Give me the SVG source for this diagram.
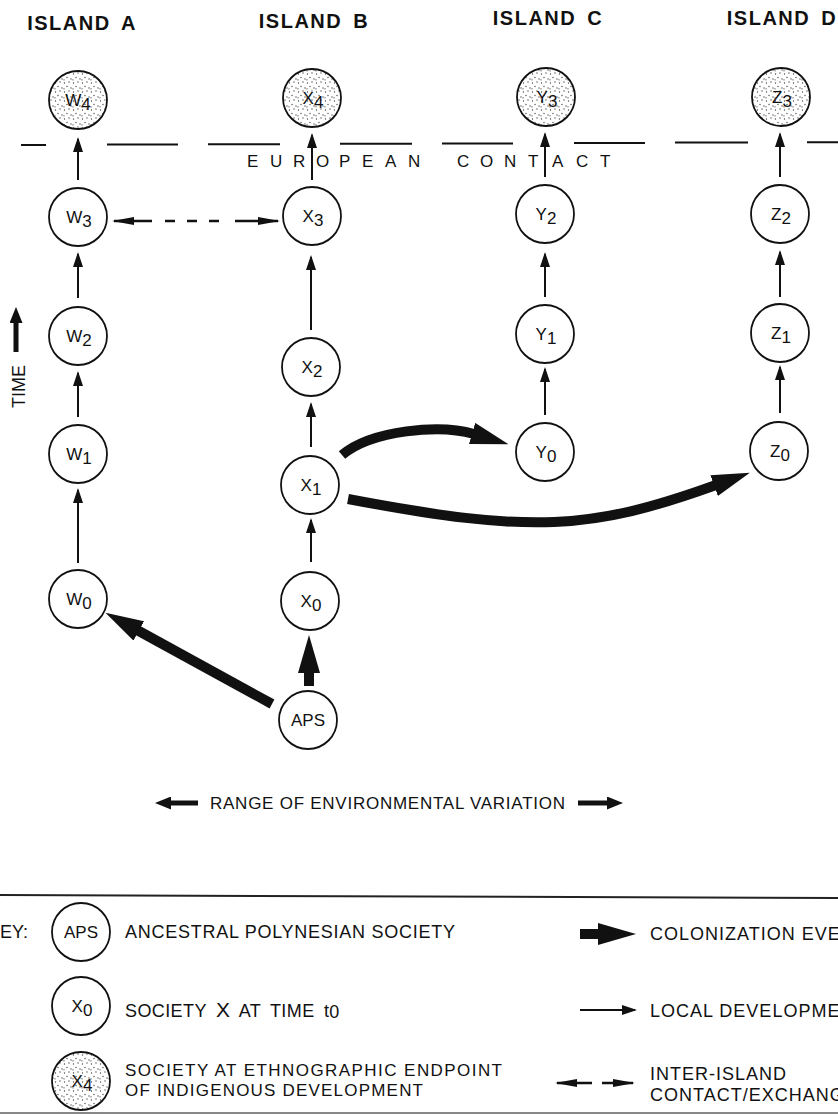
<svg xmlns="http://www.w3.org/2000/svg" width="838" height="1115" viewBox="0 0 838 1115">
<defs>
<style>
text{font-family:"Liberation Sans",Arial,sans-serif;fill:#111}
.hdr{font-size:20px;font-weight:bold;letter-spacing:1.5px;word-spacing:4px;text-anchor:middle}
.node circle{fill:#fff;stroke:#111;stroke-width:1.8}
.node.end circle{fill:url(#stip)}
.lbl{font-size:17px;text-anchor:middle}
.loc{stroke:#111;stroke-width:2;fill:none;marker-end:url(#mLoc)}
.col{stroke:#111;stroke-width:10;fill:none;marker-end:url(#mBig)}
.dsh{stroke:#111;stroke-width:2.5;fill:none}
.med{stroke:#111;stroke-width:5;fill:none;marker-end:url(#mMed)}
.ec{stroke:#111;stroke-width:2}
.key{font-size:17px}
.key18{font-size:18px}
.keyr{font-size:18px;letter-spacing:1px}
</style>
<pattern id="stip" width="9" height="9" patternUnits="userSpaceOnUse">
<rect width="9" height="9" fill="#fff"/>
<g fill="#444">
<circle cx="1.5" cy="2" r="0.65"/>
<circle cx="6" cy="1" r="0.65"/>
<circle cx="4" cy="5.5" r="0.65"/>
<circle cx="8" cy="7" r="0.65"/>
<circle cx="1" cy="7.8" r="0.65"/>
</g>
</pattern>
<marker id="mLoc" markerUnits="userSpaceOnUse" markerWidth="15" markerHeight="10" refX="13" refY="5" orient="auto"><path d="M0,0 L15,5 L0,10 z" fill="#111"/></marker>
<marker id="mBig" markerUnits="userSpaceOnUse" markerWidth="38" markerHeight="22" refX="2" refY="11" orient="auto"><path d="M0,0 L38,11 L0,22 z" fill="#111"/></marker>
<marker id="mMed" markerUnits="userSpaceOnUse" markerWidth="16" markerHeight="13" refX="2" refY="6.5" orient="auto"><path d="M0,0 L16,6.5 L0,13 z" fill="#111"/></marker>
<marker id="mDash" markerUnits="userSpaceOnUse" markerWidth="22" markerHeight="8" refX="20" refY="4" orient="auto"><path d="M0,0 L22,4 L0,8 z" fill="#111"/></marker>
</defs>
<rect width="838" height="1115" fill="#fff"/>

<g id="headers">
<text class="hdr" x="82" y="30">ISLAND A</text>
<text class="hdr" x="314" y="28">ISLAND B</text>
<text class="hdr" x="548" y="25">ISLAND C</text>
<text class="hdr" x="782" y="25">ISLAND D</text>
</g>

<g id="european-contact">
<line class="ec" x1="21" y1="145" x2="46" y2="145"/>
<line class="ec" x1="107" y1="144.6" x2="178" y2="144.6"/>
<line class="ec" x1="208" y1="144.2" x2="280" y2="144.2"/>
<line class="ec" x1="340" y1="143.8" x2="412" y2="143.8"/>
<line class="ec" x1="442" y1="143.4" x2="513" y2="143.4"/>
<line class="ec" x1="574" y1="143" x2="645" y2="143"/>
<line class="ec" x1="675" y1="142.6" x2="748" y2="142.6"/>
<line class="ec" x1="807" y1="142.2" x2="840" y2="142.2"/>
<text font-size="17" x="247 270 293 316 339 362 385 408 432 457 480 504 528 552 576 600" y="167">EUROPEAN CONTACT</text>
</g>

<g id="time-axis">
<line class="med" x1="16" y1="352" x2="16" y2="321"/>
<text font-size="18" transform="translate(25,408) rotate(-90)">TIME</text>
</g>

<g id="env-range">
<line class="med" x1="198" y1="803" x2="169" y2="803"/>
<text font-size="17" x="210" y="809" textLength="355" lengthAdjust="spacing">RANGE  OF  ENVIRONMENTAL  VARIATION</text>
<line class="med" x1="578" y1="803" x2="609" y2="803"/>
</g>

<g id="connectors">
<line class="loc" x1="78" y1="180" x2="78" y2="139"/>
<line class="loc" x1="78" y1="298" x2="78" y2="254"/>
<line class="loc" x1="78" y1="417" x2="78" y2="373"/>
<line class="loc" x1="78" y1="563" x2="78" y2="490"/>
<line class="loc" x1="312" y1="180" x2="312" y2="135"/>
<line class="loc" x1="311" y1="330" x2="311" y2="257"/>
<line class="loc" x1="311" y1="447" x2="311" y2="404"/>
<line class="loc" x1="311" y1="562" x2="311" y2="520"/>
<line class="loc" x1="545" y1="177" x2="545" y2="134"/>
<line class="loc" x1="545" y1="297" x2="545" y2="254"/>
<line class="loc" x1="545" y1="415" x2="545" y2="369"/>
<line class="loc" x1="780" y1="177" x2="780" y2="134"/>
<line class="loc" x1="780" y1="297" x2="780" y2="252"/>
<line class="loc" x1="780" y1="413" x2="780" y2="367"/>
<line class="dsh" x1="152" y1="221" x2="114" y2="221" marker-end="url(#mDash)"/>
<line class="dsh" x1="165" y1="221" x2="222" y2="221" stroke-dasharray="10 12"/>
<line class="dsh" x1="235" y1="221" x2="278" y2="221" marker-end="url(#mDash)"/>
<line class="col" x1="272" y1="704" x2="137" y2="630"/>
<line class="col" stroke-width="11" x1="309" y1="686" x2="309" y2="671"/>
<path class="col" d="M342,455 C372,430 440,424 474,434"/>
<path class="col" d="M348,499 C532,534 591,530 716,485"/>
</g>

<g id="W4" class="node end"><circle cx="78" cy="100" r="29"/><text class="lbl" x="78" y="106">W<tspan dy="4">4</tspan></text></g>
<g id="W3" class="node"><circle cx="78" cy="217" r="29"/><text class="lbl" x="79" y="223">W<tspan dy="4">3</tspan></text></g>
<g id="W2" class="node"><circle cx="78" cy="336" r="29"/><text class="lbl" x="79" y="342">W<tspan dy="4">2</tspan></text></g>
<g id="W1" class="node"><circle cx="78" cy="454" r="29"/><text class="lbl" x="79" y="460">W<tspan dy="4">1</tspan></text></g>
<g id="W0" class="node"><circle cx="78" cy="599" r="29"/><text class="lbl" x="79" y="605">W<tspan dy="4">0</tspan></text></g>

<g id="X4" class="node end"><circle cx="312" cy="98" r="29"/><text class="lbl" x="313" y="104">X<tspan dy="4">4</tspan></text></g>
<g id="X3" class="node"><circle cx="312" cy="216" r="29"/><text class="lbl" x="313" y="222">X<tspan dy="4">3</tspan></text></g>
<g id="X2" class="node"><circle cx="311" cy="367" r="29"/><text class="lbl" x="312" y="373">X<tspan dy="4">2</tspan></text></g>
<g id="X1" class="node"><circle cx="310" cy="485" r="29"/><text class="lbl" x="311" y="491">X<tspan dy="4">1</tspan></text></g>
<g id="X0" class="node"><circle cx="310" cy="601" r="29"/><text class="lbl" x="311" y="607">X<tspan dy="4">0</tspan></text></g>
<g id="APS" class="node"><circle cx="308" cy="720" r="29"/><text class="lbl" x="308" y="726">APS</text></g>

<g id="Y3" class="node end"><circle cx="546" cy="97" r="29"/><text class="lbl" x="547" y="103">Y<tspan dy="4">3</tspan></text></g>
<g id="Y2" class="node"><circle cx="545" cy="214" r="29"/><text class="lbl" x="546" y="220">Y<tspan dy="4">2</tspan></text></g>
<g id="Y1" class="node"><circle cx="545" cy="334" r="29"/><text class="lbl" x="546" y="340">Y<tspan dy="4">1</tspan></text></g>
<g id="Y0" class="node"><circle cx="545" cy="452" r="29"/><text class="lbl" x="546" y="458">Y<tspan dy="4">0</tspan></text></g>

<g id="Z3" class="node end"><circle cx="781" cy="97" r="29"/><text class="lbl" x="782" y="103">Z<tspan dy="4">3</tspan></text></g>
<g id="Z2" class="node"><circle cx="780" cy="214" r="29"/><text class="lbl" x="781" y="220">Z<tspan dy="4">2</tspan></text></g>
<g id="Z1" class="node"><circle cx="780" cy="333" r="29"/><text class="lbl" x="781" y="339">Z<tspan dy="4">1</tspan></text></g>
<g id="Z0" class="node"><circle cx="779" cy="451" r="29"/><text class="lbl" x="780" y="457">Z<tspan dy="4">0</tspan></text></g>

<g id="key">
<line x1="0" y1="895" x2="838" y2="898" stroke="#222" stroke-width="2"/>
<line x1="0" y1="1113" x2="838" y2="1113" stroke="#888" stroke-width="2"/>
<text class="key18" x="-12" y="938">KEY:</text>
<g id="key-APS" class="node"><circle cx="81" cy="932" r="29"/><text class="lbl" x="81" y="938">APS</text></g>
<text class="key18" x="125" y="938" textLength="330" lengthAdjust="spacing">ANCESTRAL POLYNESIAN SOCIETY</text>
<g id="key-X0" class="node"><circle cx="81" cy="1006" r="29"/><text class="lbl" x="82" y="1012">X<tspan dy="4">0</tspan></text></g>
<text class="key18" x="125" y="1017" letter-spacing="0.4" word-spacing="4">SOCIETY <tspan font-size="21">X</tspan> AT TIME t<tspan dy="1">0</tspan></text>
<g id="key-X4" class="node end"><circle cx="81" cy="1081" r="29"/><text class="lbl" x="82" y="1087">X<tspan dy="4">4</tspan></text></g>
<text class="key" x="125" y="1076" textLength="377" lengthAdjust="spacing">SOCIETY AT ETHNOGRAPHIC ENDPOINT</text>
<text class="key" x="125" y="1096" textLength="298" lengthAdjust="spacing">OF INDIGENOUS DEVELOPMENT</text>
<line class="col" stroke-width="12" x1="580" y1="934" x2="600" y2="934"/>
<text class="keyr" x="650" y="940">COLONIZATION EVENT</text>
<line class="loc" x1="580" y1="1010" x2="635" y2="1010"/>
<text class="keyr" x="650" y="1017">LOCAL DEVELOPMENT</text>
<line class="dsh" x1="592" y1="1083" x2="557" y2="1083" marker-end="url(#mDash)"/>
<line class="dsh" x1="602" y1="1083" x2="633" y2="1083" marker-end="url(#mDash)"/>
<text class="keyr" x="650" y="1080">INTER-ISLAND</text>
<text class="keyr" x="650" y="1101">CONTACT/EXCHANGE</text>
</g>
</svg>
